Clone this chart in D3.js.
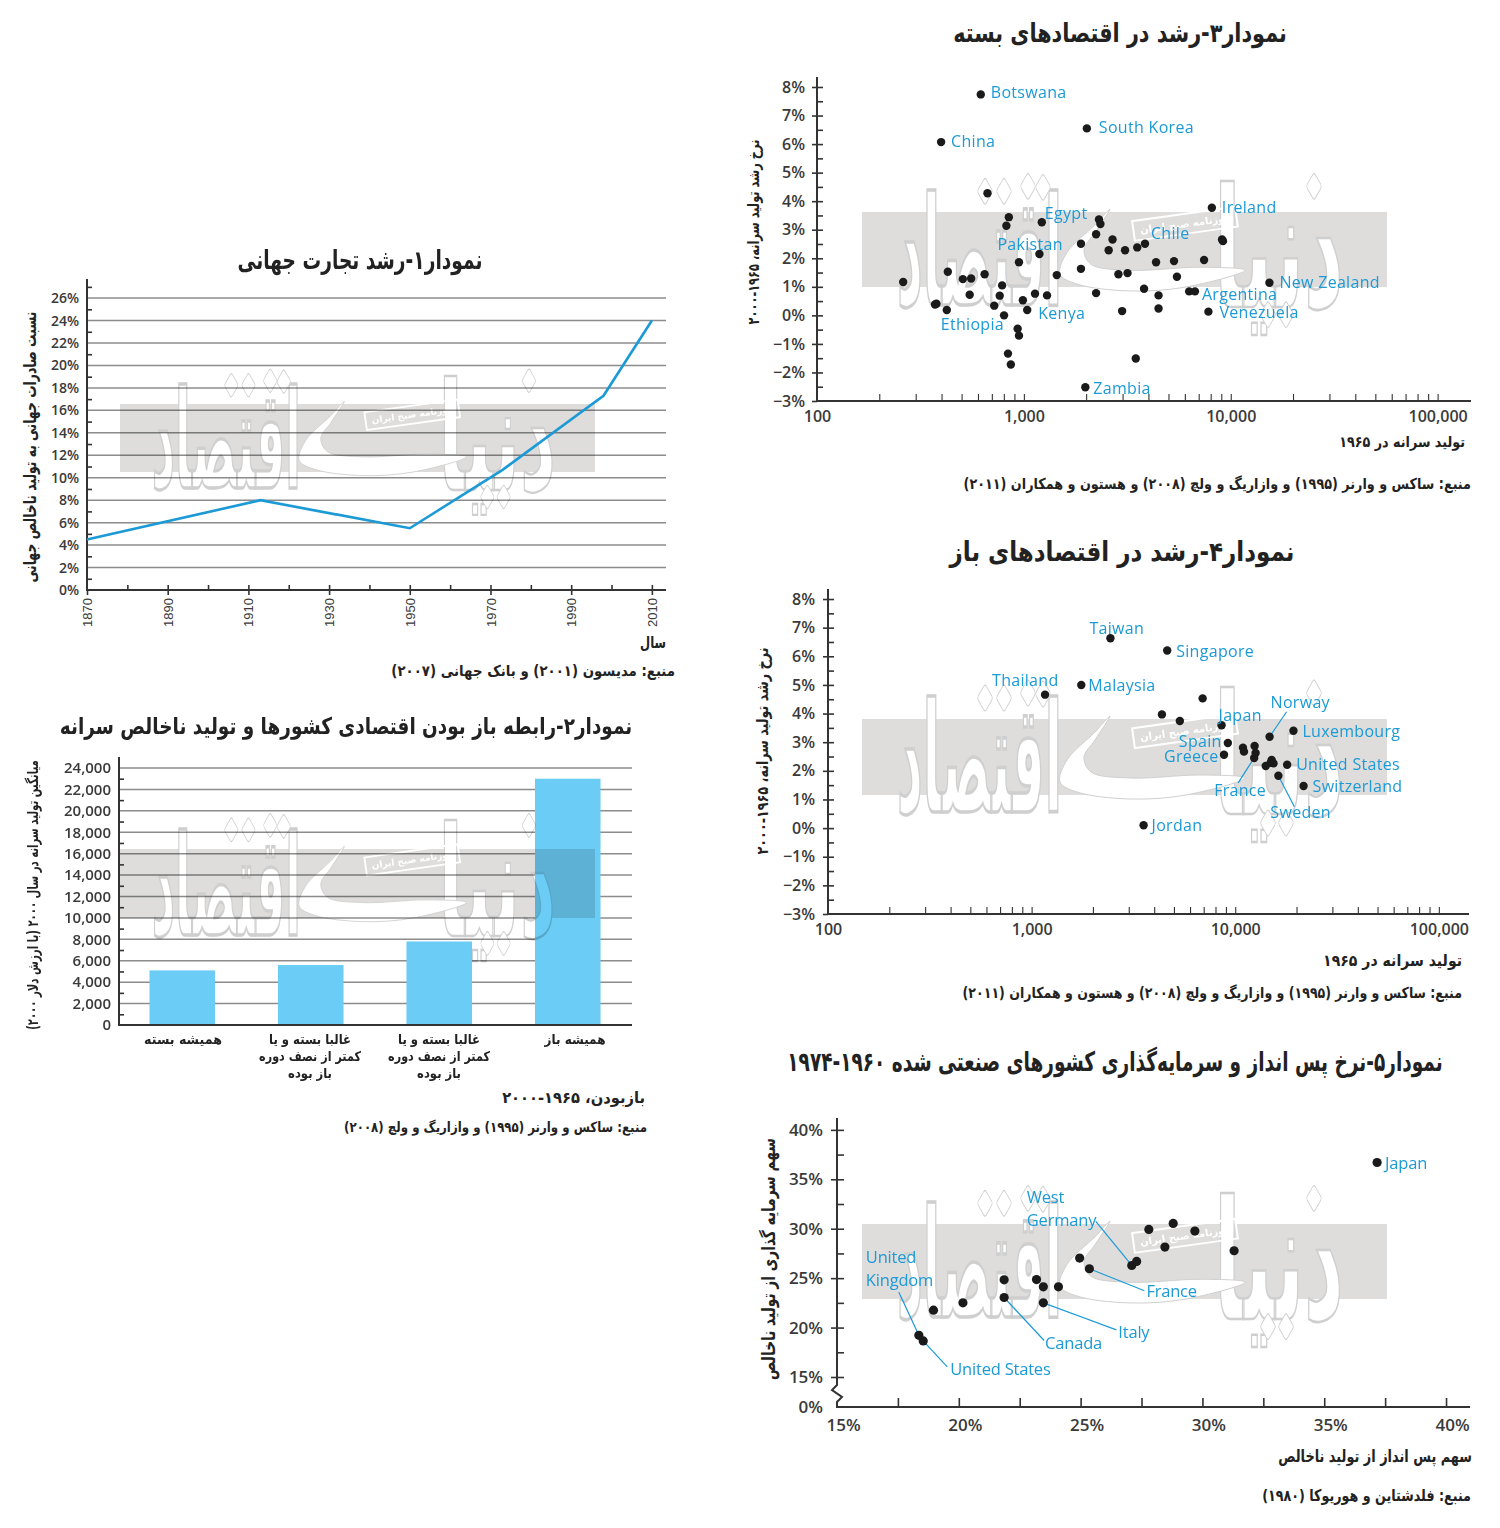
<!DOCTYPE html>
<html lang="fa"><head><meta charset="utf-8">
<script src="https://cdn.jsdelivr.net/npm/d3@7/dist/d3.min.js"></script>
<style>html,body{margin:0;background:#fff}svg{display:block}</style></head>
<body><svg id="c" width="1500" height="1528"></svg>
<script>
// ---------- Chart 1 data
const tradeYears=[1870,1913,1950,1973,1998,2010];
const tradeShare=[4.5,8,5.5,10.7,17.3,24];
// ---------- Chart 2 data
const openCategories=[["همیشه بسته"],["غالبا بسته و یا","کمتر از نصف دوره","باز بوده"],["غالبا بسته و یا","کمتر از نصف دوره","باز بوده"],["همیشه باز"]];
const openValues=[5100,5600,7800,23000];
// ---------- Chart 3 data (named points first)
const closedNames=["Botswana","South Korea","China","Egypt","Ireland","Chile","Pakistan","New Zealand","Argentina","Venezuela","Kenya","Ethiopia","Zambia"];
const closedGdp=[619,2016,398,1221,8105,3850,1189,15380,6714,7800,1038,424,1982,
667,846,823,2307,2344,2234,2683,1888,3532,3084,2570,9078,9173,947,4355,5318,7431,1888,2865,3170,1442,646,429,507,556,261,785,5495,3810,6295,547,764,1132,1294,2234,4477,989,378,372,719,802,4477,2985,933,947,838,865,3475];
const closedGrowth=[7.74,6.55,6.07,3.26,3.77,2.51,2.15,1.14,0.84,0.13,0.19,0.19,-2.52,
4.28,3.44,3.14,3.36,3.20,2.84,2.66,2.51,2.38,2.28,2.28,2.66,2.60,1.86,1.86,1.90,1.94,1.63,1.44,1.48,1.41,1.44,1.53,1.27,1.29,1.17,1.05,1.35,0.93,0.84,0.72,0.69,0.76,0.70,0.78,0.70,0.53,0.41,0.38,0.34,0.0,0.24,0.15,-0.47,-0.71,-1.34,-1.72,-1.51];
// ---------- Chart 4 data (named points first)
const openNames=["Taiwan","Singapore","Malaysia","Thailand","Japan","Norway","Luxembourg","Spain","Greece","United States","Switzerland","France","Sweden","Jordan"];
const openGdp=[2438,4634,1754,1164,8570,14750,19320,9200,8810,17990,21660,12390,16290,3548,
6918,4365,5346,10914,11040,12450,12590,15100,14930,15420,14120];
const openGrowth=[6.63,6.20,5.0,4.66,3.59,3.19,3.40,2.97,2.56,2.21,1.47,2.45,1.83,0.10,
4.53,3.97,3.74,2.81,2.67,2.87,2.62,2.38,2.28,2.26,2.17];
// ---------- Chart 5 data (named points first)
const savingNames=["Japan","West\nGermany","France","Italy","Canada","United States","United\nKingdom"];
const savingRate=[37.17,27.1,25.36,23.47,21.86,18.54,18.36,
28.8,27.8,29.69,28.46,31.3,24.96,27.3,21.86,23.19,23.47,24.09,20.17,18.96];
const investRate=[36.7,26.28,25.95,22.5,23.04,18.65,19.22,
30.54,29.93,29.76,28.14,27.77,27.03,26.69,24.83,24.86,24.12,24.12,22.5,21.76];
// ---------- tick labels
const logMajors=[100,1000,10000,100000];
const logMinors=[200,300,400,500,600,700,800,900,1000,2000,3000,4000,5000,6000,7000,8000,9000,10000,20000,30000,40000,50000,60000,70000,80000,90000,100000];
// ---------- annotation offsets from each point, [label dx, label dy, leader dx, leader dy]
const closedOffsets={"Botswana":[10,-2],"South Korea":[12,-1],"China":[10,-1],"Egypt":[3,-9],"Ireland":[10,-1],"Chile":[6,-11],"Pakistan":[-42,-10],"New Zealand":[10,-1],"Argentina":[7,3],"Venezuela":[11,0],"Kenya":[11,3],"Ethiopia":[-6,14],"Zambia":[8,1]};
const openOffsets={"Taiwan":[-21,-10],"Singapore":[9,0],"Malaysia":[7,0],"Thailand":[-53,-15],"Japan":[-3,-10],"Norway":[1,-35,17,-25],"Luxembourg":[9,0],"Spain":[-49,-2],"Greece":[-60,1],"United States":[9,-1],"Switzerland":[9,0],"France":[-40,32,-16,25],"Sweden":[-8,36,16,31],"Jordan":[8,0]};
const savingOffsets={"Japan":[8,0],"West\nGermany":[-105,-69,-36,-44],"France":[57,22,55,22],"Italy":[75,29,73,27],"Canada":[41,45,40,43],"United States":[27,28,24,26],"United\nKingdom":[-53,-79,-20,-43]};

const FA='"DejaVu Sans",sans-serif', EN='"Open Sans","Noto Sans",sans-serif';
const INK='#222', AX='#333', GRID='#8c8c8c', BLUE='#1b9ad6', BAR='#6bcdf6';
const svg=d3.select('#c');

function fa(x,y,str,o={}){ // Persian text fitted to a width; anchor right or middle
  const t=svg.append('text').text(str).attr('font-family',FA).attr('font-size',o.size||14)
    .attr('font-weight',o.weight||'bold').attr('fill',INK).attr('direction','rtl')
    .attr('dominant-baseline','central').attr('text-anchor',o.middle?'middle':'start');
  const len=t.node().getComputedTextLength();
  const sx=o.width?o.width/len:1;
  t.attr('transform',`translate(${x},${y}) rotate(${o.rot||0}) scale(${sx},1)`);
  return t;
}
const swash=[[248,-3],[233,13],[205,41],[198,63],[215,73],[268,80],[324,76],[383,59],[338,56],[268,59],[229,53],[222,38],[233,21]];
function watermark(x,y,w,h){
  const g=svg.append('g').attr('transform',`translate(${x},${y}) scale(${w/525},${h/76})`).style('mix-blend-mode','multiply');
  g.append('rect').attr('width',525).attr('height',76).attr('fill','#dedddc');
  const fit=(str,bx,by,bw,bh)=>{
    const t=g.append('text').text(str).attr('font-family',FA).attr('font-weight','bold').attr('font-size',100)
      .attr('fill','#fff').attr('stroke','#cfcfcf').attr('stroke-width',1.2).attr('direction','rtl').attr('text-anchor','middle');
    const b=t.node().getBBox();
    t.attr('transform',`translate(${bx},${by}) scale(${bw/b.width},${bh/b.height}) translate(${-b.x},${-b.y})`);
    t.attr('stroke-width',1.2*b.width/bw);
  };
  fit('اقتصاد',35,-48,165,178);
  fit('دنیا',352,-60,130,195);
  g.append('path').attr('d',d3.line().curve(d3.curveCatmullRomClosed)(swash)).attr('fill','#fff').attr('stroke','#cfcfcf').attr('stroke-width',1);
  [[123,-21],[142,-21],[166,-26],[181,-25],[452,-26],[406,104],[424,104]].forEach(p=>{
    g.append('rect').attr('x',-8).attr('y',-8).attr('width',16).attr('height',16).attr('rx',2.5)
     .attr('fill','#fff').attr('stroke','#cfcfcf')
     .attr('transform',`translate(${p[0]},${p[1]}) scale(.7,1.24) rotate(45)`);
  });
  const s=g.append('g').attr('transform','translate(323,12) rotate(-8)');
  s.append('rect').attr('x',-52).attr('y',-10).attr('width',104).attr('height',20).attr('fill','none').attr('stroke','#fff').attr('stroke-width',2);
  s.append('text').text('روزنامه صبح ایران').attr('font-family',FA).attr('font-size',10).attr('font-weight','bold').attr('fill','#fff')
   .attr('text-anchor','middle').attr('dominant-baseline','central').attr('direction','rtl');
}
function style(sel,size,opts={}){
  sel.select('.domain').remove();
  sel.selectAll('line').attr('stroke',AX).attr('stroke-width',opts.sw||1.6);
  sel.selectAll('text').attr('font-family',opts.font||EN).attr('font-size',size).attr('font-weight',opts.weight||600).attr('fill','#3a3a3a');
  return sel;
}
function axisLines(x0,y0,x1,y1){
  svg.append('path').attr('d',d3.line()([[x0,y1],[x0,y0],[x1,y0]])).attr('fill','none').attr('stroke',AX).attr('stroke-width',2);
}

// ========= Chart 1
(function(){
  const x=d3.scaleLinear([1870,2013.5],[87,666]);
  const y=d3.scaleLinear([0,27.7],[590,279]);
  const majors=d3.range(0,27,2), minors=d3.range(1,28,2);
  svg.append('g').selectAll('line').data(majors.slice(1)).join('line')
    .attr('x1',x(1870)).attr('x2',x.range()[1]).attr('y1',d=>y(d)).attr('y2',d=>y(d)).attr('stroke',GRID).attr('stroke-width',1.5);
  watermark(120,404,475,68);
  style(svg.append('g').attr('transform',`translate(${x(1870)},0)`).call(d3.axisRight(y).tickValues(minors).tickSize(5).tickFormat('')),13);
  style(svg.append('g').attr('transform',`translate(${x(1870)},0)`).call(d3.axisLeft(y).tickValues(majors).tickSize(0).tickPadding(8).tickFormat(d=>d+'%')),14);
  style(svg.append('g').attr('transform',`translate(0,${y(0)})`).call(d3.axisTop(x).tickValues(d3.range(1880,2011,10)).tickSize(5).tickFormat('')),12);
  const gx=style(svg.append('g').attr('transform',`translate(0,${y(0)})`).call(d3.axisBottom(x).tickValues(d3.range(1870,2011,20)).tickSize(5).tickFormat(d3.format('d'))),13,{font:'"Liberation Sans",sans-serif',weight:400});
  gx.selectAll('text').attr('transform','rotate(-90)').attr('text-anchor','end').attr('dy','.35em').attr('x',-8).attr('y',0);
  axisLines(x(1870),y(0),x.range()[1],y.range()[1]);
  svg.append('path').attr('d',d3.line().x((d,i)=>x(tradeYears[i])).y(d=>y(d))(tradeShare)).attr('fill','none').attr('stroke',BLUE).attr('stroke-width',2.6);
  fa(360,260,'نمودار۱-رشد تجارت جهانی',{size:26,middle:true,width:245});
  fa(30,447,'نسبت صادرات جهانی به تولید ناخالص جهانی',{size:17,middle:true,rot:-90,width:271});
  fa(666,642,'سال',{size:16,width:26});
  fa(675,671,'منبع: مدیسون (۲۰۰۱) و بانک جهانی (۲۰۰۷)',{size:15,width:284});
})();

// ========= Chart 2
(function(){
  const x=d3.scaleBand(d3.range(4),[118,632]).paddingInner(.49).paddingOuter(.245);
  const y=d3.scaleLinear([0,25027],[1025,757]);
  const majors=d3.range(0,24001,2000), minors=d3.range(1000,24001,2000);
  svg.append('g').selectAll('line').data(majors.slice(1)).join('line')
    .attr('x1',119).attr('x2',632).attr('y1',d=>y(d)).attr('y2',d=>y(d)).attr('stroke',GRID).attr('stroke-width',1.5);
  svg.append('g').selectAll('rect').data(openValues).join('rect')
    .attr('x',(d,i)=>x(i)).attr('width',x.bandwidth()).attr('y',d=>y(d)).attr('height',d=>y(0)-y(d)).attr('fill',BAR);
  watermark(120,849,475,69);
  style(svg.append('g').attr('transform','translate(119,0)').call(d3.axisRight(y).tickValues(minors).tickSize(5).tickFormat('')),13);
  style(svg.append('g').attr('transform','translate(119,0)').call(d3.axisLeft(y).tickValues(majors).tickSize(0).tickPadding(8).tickFormat(d3.format(','))),15);
  axisLines(119,y(0),632,y.range()[1]);
  const centers=[183,310,439,575], widths=[[78],[82,102,44],[82,102,44],[61]];
  openCategories.forEach((lines,i)=>lines.forEach((s,j)=>fa(centers[i],1039+j*17,s,{size:13.5,middle:true,width:widths[i][j]})));
  fa(346,726,'نمودار۲-رابطه باز بودن اقتصادی کشورها و تولید ناخالص سرانه',{size:23,middle:true,width:573});
  fa(33,895,'میانگین تولید سرانه در سال ۲۰۰۰ (با ارزش دلار ۲۰۰۰)',{size:15,middle:true,rot:-90,width:270});
  fa(645,1098,'بازبودن، ۱۹۶۵-۲۰۰۰',{size:15.5,width:143});
  fa(647,1127,'منبع: ساکس و وارنر (۱۹۹۵) و وازاریگ و ولچ (۲۰۰۸)',{size:14,width:303});
})();

// ========= scatter helpers
function points(xs,ys,gx,gy,names,offs,r,fs,ls){
  const lay=svg.append('g');
  names.forEach((n,i)=>{
    const o=offs[n], px=gx(xs[i]), py=gy(ys[i]);
    if(o.length>2) lay.append('line').attr('x1',px).attr('y1',py).attr('x2',px+o[2]).attr('y2',py+o[3]).attr('stroke',BLUE).attr('stroke-width',1.2);
  });
  svg.append('g').selectAll('circle').data(xs).join('circle').attr('cx',d=>gx(d)).attr('cy',(d,i)=>gy(ys[i])).attr('r',r).attr('fill','#1a1a1a');
  names.forEach((n,i)=>{
    const o=offs[n], px=gx(xs[i]), py=gy(ys[i]);
    n.split('\n').forEach((s,j)=>{
      svg.append('text').text(s).attr('x',px+o[0]).attr('y',py+o[1]+j*23).attr('dominant-baseline','central')
       .attr('font-family',EN).attr('font-size',fs).attr('font-weight',500).attr('letter-spacing',ls).attr('fill',BLUE);
    });
  });
}
function logChart(xr,yr,xtop,xs,ys,names,offs,wm,yPad){
  const x=d3.scaleLog([100,xtop],xr).base(10);
  const y=d3.scaleLinear(yr.dom,yr.rng);
  watermark(...wm);
  style(svg.append('g').attr('transform',`translate(${xr[0]},0)`).call(d3.axisRight(y).tickValues(d3.range(-2.5,8,1)).tickSize(6).tickFormat('')),13);
  style(svg.append('g').attr('transform',`translate(${xr[0]},0)`).call(d3.axisRight(y).tickValues(d3.range(-2,9,1)).tickSize(6).tickFormat('')),13);
  style(svg.append('g').attr('transform',`translate(${xr[0]},0)`).call(d3.axisLeft(y).tickValues(d3.range(-3,9,1)).tickSize(5).tickPadding(yPad).tickFormat(d=>(d<0?'\u2212'+(-d):d)+'%')),16);
  style(svg.append('g').attr('transform',`translate(0,${y(-3)})`).call(d3.axisTop(x).tickValues(logMinors).tickSize(7).tickFormat('')),13,{sw:1.1});
  style(svg.append('g').attr('transform',`translate(0,${y(-3)})`).call(d3.axisBottom(x).tickValues(logMajors).tickSize(0).tickPadding(10).tickFormat(d3.format(','))),16);
  axisLines(xr[0],y(-3),xr[1],y.range()[1]);
  points(xs,ys,x,y,names,offs,4.2,16,.3);
}

// ========= Chart 3
logChart([817,1471],{dom:[-3,8.35],rng:[401,77]},145000,closedGdp,closedGrowth,closedNames,closedOffsets,[862,212,525,75],7);
fa(1120,33,'نمودار۳-رشد در اقتصادهای بسته',{size:26,middle:true,width:334});
fa(753,232,'نرخ رشد تولید سرانه، ۱۹۶۵-۲۰۰۰',{size:15.5,middle:true,rot:-90,width:185});
fa(1465,442,'تولید سرانه در ۱۹۶۵',{size:15,width:126});
fa(1471,484,'منبع: ساکس و وارنر (۱۹۹۵) و وازاریگ و ولچ (۲۰۰۸) و هستون و همکاران (۲۰۱۱)',{size:15,width:508});

// ========= Chart 4
logChart([828,1469],{dom:[-3,8.35],rng:[914,589]},145000*.97,openGdp,openGrowth,openNames,openOffsets,[862,719,525,76],8);
fa(1122,552,'نمودار۴-رشد در اقتصادهای باز',{size:27,middle:true,width:345});
fa(762,751,'نرخ رشد تولید سرانه، ۱۹۶۵-۲۰۰۰',{size:16,middle:true,rot:-90,width:207});
fa(1462,961,'تولید سرانه در ۱۹۶۵',{size:16,width:139});
fa(1462,993,'منبع: ساکس و وارنر (۱۹۹۵) و وازاریگ و ولچ (۲۰۰۸) و هستون و همکاران (۲۰۱۱)',{size:15,width:500});

// ========= Chart 5
(function(){
  const x=d3.scaleLinear([15,41],[837,1470.4]);
  const y=d3.scaleLinear([0,15,41.2],[1407,1377,1118]);
  watermark(862,1224,525,75);
  style(svg.append('g').attr('transform','translate(837,0)').call(d3.axisRight(y).tickValues(d3.range(17.5,40,5)).tickSize(7).tickFormat('')),13);
  style(svg.append('g').attr('transform','translate(837,0)').call(d3.axisRight(y).tickValues(d3.range(15,41,5)).tickSize(7).tickFormat('')),13);
  style(svg.append('g').attr('transform','translate(837,0)').call(d3.axisLeft(y).tickValues([15,20,25,30,35,40]).tickSize(6).tickPadding(8).tickFormat(d=>d+'%')),17);
  style(svg.append('g').attr('transform','translate(837,0)').call(d3.axisLeft(y).tickValues([0]).tickSize(0).tickPadding(14).tickFormat(d=>d+'%')),17);
  style(svg.append('g').attr('transform',`translate(0,${y(0)})`).call(d3.axisTop(x).tickValues(d3.range(17.5,41,2.5)).tickSize(9).tickFormat('')),13);
  const gx=style(svg.append('g').attr('transform',`translate(0,${y(0)})`).call(d3.axisBottom(x).tickValues(d3.range(15,41,5)).tickSize(0).tickPadding(12).tickFormat(d=>d+'%')),17);
  gx.selectAll('text').attr('dx',6);
  const b=y(15);
  svg.append('path').attr('d',d3.line()([[837,y(41.2)],[837,b+8],[832,b+13],[842,b+20],[837,b+25],[837,y(0)],[1470,y(0)]])).attr('fill','none').attr('stroke',AX).attr('stroke-width',2);
  points(savingRate,investRate,x,y,savingNames,savingOffsets,4.6,16.5,-.2);
  fa(1115,1062,'نمودار۵-نرخ پس انداز و سرمایه‌گذاری کشورهای صنعتی شده ۱۹۶۰-۱۹۷۴',{size:27,middle:true,width:656});
  fa(769,1259,'سهم سرمایه گذاری از تولید ناخالص',{size:18,middle:true,rot:-90,width:242});
  fa(1472,1456,'سهم پس انداز از تولید ناخالص',{size:16.5,width:194});
  fa(1471,1495,'منبع: فلدشتاین و هوریوکا (۱۹۸۰)',{size:16,width:209});
})();
</script></body></html>
